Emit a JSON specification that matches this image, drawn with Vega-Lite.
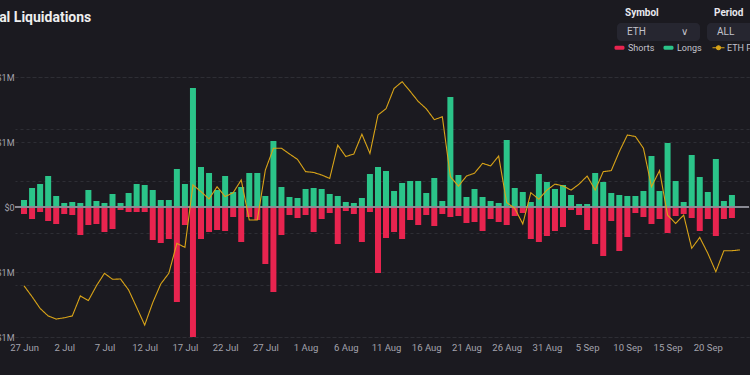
{
  "$schema": "https://vega.github.io/schema/vega-lite/v6.json",
  "width": 734,
  "height": 260,
  "autosize": {"type": "none"},
  "padding": {"left": 15, "top": 77, "right": 1, "bottom": 38},
  "background": "#1b1a20",
  "config": {"view": {"stroke": null}, "font": "Roboto"},
  "title": {"text": "Total Liquidations", "anchor": "start", "frame": "group", "dx": -36, "offset": -17, "fontSize": 14, "font": "Roboto", "fontWeight": "bold", "color": "#eeeeee"},
  "data": {"values": [
    {"date":"2022-06-27","longs":70000,"shorts":-70000,"price":1197},
    {"date":"2022-06-28","longs":190000,"shorts":-120000,"price":1155},
    {"date":"2022-06-29","longs":230000,"shorts":-50000,"price":1110},
    {"date":"2022-06-30","longs":310000,"shorts":-140000,"price":1081},
    {"date":"2022-07-01","longs":110000,"shorts":-170000,"price":1069},
    {"date":"2022-07-02","longs":40000,"shorts":-70000,"price":1074},
    {"date":"2022-07-03","longs":50000,"shorts":-80000,"price":1081},
    {"date":"2022-07-04","longs":40000,"shorts":-280000,"price":1158},
    {"date":"2022-07-05","longs":170000,"shorts":-180000,"price":1140},
    {"date":"2022-07-06","longs":60000,"shorts":-170000,"price":1197},
    {"date":"2022-07-07","longs":40000,"shorts":-250000,"price":1245},
    {"date":"2022-07-08","longs":130000,"shorts":-220000,"price":1222},
    {"date":"2022-07-09","longs":40000,"shorts":-30000,"price":1223},
    {"date":"2022-07-10","longs":140000,"shorts":-50000,"price":1181},
    {"date":"2022-07-11","longs":230000,"shorts":-50000,"price":1114},
    {"date":"2022-07-12","longs":220000,"shorts":-50000,"price":1046},
    {"date":"2022-07-13","longs":170000,"shorts":-330000,"price":1132},
    {"date":"2022-07-14","longs":70000,"shorts":-360000,"price":1204},
    {"date":"2022-07-15","longs":70000,"shorts":-320000,"price":1245},
    {"date":"2022-07-16","longs":380000,"shorts":-950000,"price":1360},
    {"date":"2022-07-17","longs":230000,"shorts":-180000,"price":1345},
    {"date":"2022-07-18","longs":1190000,"shorts":-1330000,"price":1585},
    {"date":"2022-07-19","longs":400000,"shorts":-320000,"price":1559},
    {"date":"2022-07-20","longs":340000,"shorts":-250000,"price":1531},
    {"date":"2022-07-21","longs":170000,"shorts":-230000,"price":1578},
    {"date":"2022-07-22","longs":310000,"shorts":-240000,"price":1540},
    {"date":"2022-07-23","longs":150000,"shorts":-100000,"price":1555},
    {"date":"2022-07-24","longs":200000,"shorts":-350000,"price":1604},
    {"date":"2022-07-25","longs":340000,"shorts":-100000,"price":1450},
    {"date":"2022-07-26","longs":340000,"shorts":-130000,"price":1450},
    {"date":"2022-07-27","longs":110000,"shorts":-570000,"price":1642},
    {"date":"2022-07-28","longs":660000,"shorts":-850000,"price":1726},
    {"date":"2022-07-29","longs":200000,"shorts":-280000,"price":1726},
    {"date":"2022-07-30","longs":100000,"shorts":-80000,"price":1704},
    {"date":"2022-07-31","longs":90000,"shorts":-110000,"price":1683},
    {"date":"2022-08-01","longs":180000,"shorts":-80000,"price":1636},
    {"date":"2022-08-02","longs":190000,"shorts":-250000,"price":1633},
    {"date":"2022-08-03","longs":180000,"shorts":-120000,"price":1623},
    {"date":"2022-08-04","longs":130000,"shorts":-60000,"price":1610},
    {"date":"2022-08-05","longs":110000,"shorts":-370000,"price":1738},
    {"date":"2022-08-06","longs":50000,"shorts":-40000,"price":1694},
    {"date":"2022-08-07","longs":40000,"shorts":-70000,"price":1704},
    {"date":"2022-08-08","longs":90000,"shorts":-350000,"price":1780},
    {"date":"2022-08-09","longs":330000,"shorts":-50000,"price":1706},
    {"date":"2022-08-10","longs":400000,"shorts":-660000,"price":1854},
    {"date":"2022-08-11","longs":360000,"shorts":-310000,"price":1878},
    {"date":"2022-08-12","longs":160000,"shorts":-250000,"price":1956},
    {"date":"2022-08-13","longs":240000,"shorts":-320000,"price":1982},
    {"date":"2022-08-14","longs":260000,"shorts":-130000,"price":1945},
    {"date":"2022-08-15","longs":260000,"shorts":-180000,"price":1906},
    {"date":"2022-08-16","longs":140000,"shorts":-80000,"price":1878},
    {"date":"2022-08-17","longs":290000,"shorts":-190000,"price":1836},
    {"date":"2022-08-18","longs":60000,"shorts":-70000,"price":1847},
    {"date":"2022-08-19","longs":1100000,"shorts":-100000,"price":1617},
    {"date":"2022-08-20","longs":320000,"shorts":-90000,"price":1580},
    {"date":"2022-08-21","longs":100000,"shorts":-160000,"price":1619},
    {"date":"2022-08-22","longs":180000,"shorts":-150000,"price":1630},
    {"date":"2022-08-23","longs":100000,"shorts":-240000,"price":1668},
    {"date":"2022-08-24","longs":60000,"shorts":-120000,"price":1658},
    {"date":"2022-08-25","longs":40000,"shorts":-150000,"price":1696},
    {"date":"2022-08-26","longs":670000,"shorts":-180000,"price":1517},
    {"date":"2022-08-27","longs":190000,"shorts":-90000,"price":1495},
    {"date":"2022-08-28","longs":150000,"shorts":-60000,"price":1435},
    {"date":"2022-08-29","longs":50000,"shorts":-320000,"price":1555},
    {"date":"2022-08-30","longs":330000,"shorts":-350000,"price":1530},
    {"date":"2022-08-31","longs":250000,"shorts":-290000,"price":1565},
    {"date":"2022-09-01","longs":180000,"shorts":-240000,"price":1588},
    {"date":"2022-09-02","longs":220000,"shorts":-200000,"price":1581},
    {"date":"2022-09-03","longs":120000,"shorts":-30000,"price":1565},
    {"date":"2022-09-04","longs":30000,"shorts":-80000,"price":1588},
    {"date":"2022-09-05","longs":30000,"shorts":-230000,"price":1619},
    {"date":"2022-09-06","longs":340000,"shorts":-370000,"price":1565},
    {"date":"2022-09-07","longs":250000,"shorts":-490000,"price":1636},
    {"date":"2022-09-08","longs":140000,"shorts":-140000,"price":1640},
    {"date":"2022-09-09","longs":120000,"shorts":-440000,"price":1713},
    {"date":"2022-09-10","longs":110000,"shorts":-300000,"price":1777},
    {"date":"2022-09-11","longs":110000,"shorts":-60000,"price":1771},
    {"date":"2022-09-12","longs":160000,"shorts":-100000,"price":1726},
    {"date":"2022-09-13","longs":510000,"shorts":-170000,"price":1578},
    {"date":"2022-09-14","longs":160000,"shorts":-120000,"price":1640},
    {"date":"2022-09-15","longs":640000,"shorts":-260000,"price":1469},
    {"date":"2022-09-16","longs":260000,"shorts":-90000,"price":1437},
    {"date":"2022-09-17","longs":50000,"shorts":-70000,"price":1469},
    {"date":"2022-09-18","longs":520000,"shorts":-110000,"price":1341},
    {"date":"2022-09-19","longs":300000,"shorts":-240000,"price":1383},
    {"date":"2022-09-20","longs":150000,"shorts":-120000,"price":1322},
    {"date":"2022-09-21","longs":480000,"shorts":-290000,"price":1251},
    {"date":"2022-09-22","longs":60000,"shorts":-120000,"price":1332},
    {"date":"2022-09-23","longs":120000,"shorts":-110000,"price":1332},
    {"date":"2022-09-24","longs":0,"shorts":0,"price":1335}
  ]},
  "layer": [
    {
      "layer": [
        {
          "mark": {"type": "bar", "width": 6, "clip": true},
          "encoding": {
            "x": {"field": "date", "type": "temporal",
              "scale": {"type": "utc", "domain": [{"year": 2022, "month": 6, "date": 26, "hours": 12, "utc": true}, {"year": 2022, "month": 9, "date": 24, "hours": 12, "utc": true}]},
              "axis": {"title": null, "format": "%-d %b", "grid": false, "domain": false, "ticks": false, "labelPadding": 5, "labelColor": "#a3a3ad", "labelFontSize": 9.5, "labelFont": "Roboto",
                "values": [
                  {"year": 2022, "month": 6, "date": 27, "utc": true},
                  {"year": 2022, "month": 7, "date": 2, "utc": true},
                  {"year": 2022, "month": 7, "date": 7, "utc": true},
                  {"year": 2022, "month": 7, "date": 12, "utc": true},
                  {"year": 2022, "month": 7, "date": 17, "utc": true},
                  {"year": 2022, "month": 7, "date": 22, "utc": true},
                  {"year": 2022, "month": 7, "date": 27, "utc": true},
                  {"year": 2022, "month": 8, "date": 1, "utc": true},
                  {"year": 2022, "month": 8, "date": 6, "utc": true},
                  {"year": 2022, "month": 8, "date": 11, "utc": true},
                  {"year": 2022, "month": 8, "date": 16, "utc": true},
                  {"year": 2022, "month": 8, "date": 21, "utc": true},
                  {"year": 2022, "month": 8, "date": 26, "utc": true},
                  {"year": 2022, "month": 8, "date": 31, "utc": true},
                  {"year": 2022, "month": 9, "date": 5, "utc": true},
                  {"year": 2022, "month": 9, "date": 10, "utc": true},
                  {"year": 2022, "month": 9, "date": 15, "utc": true},
                  {"year": 2022, "month": 9, "date": 20, "utc": true}
                ]}},
            "y": {"field": "longs", "type": "quantitative",
              "scale": {"domain": [-1300000, 1300000], "nice": false, "zero": false},
              "axis": {"title": null, "orient": "left", "values": [-1300000, -650000, 0, 650000, 1300000], "labelExpr": "datum.value == 0 ? '$0' : (datum.value < 0 ? '-' : '') + '$' + round(abs(datum.value) / 1000000) + 'M'", "domain": false, "ticks": false, "labelPadding": 1, "labelColor": "#a3a3ad", "labelFontSize": 9, "labelFont": "Roboto", "grid": true, "gridColor": "#2e2e35", "gridDash": [3, 3], "gridWidth": 1}},
            "color": {"datum": "Longs", "type": "nominal",
              "scale": {"domain": ["Shorts", "Longs", "ETH Price"], "range": ["#e8244f", "#2bc489", "#d9a418"]},
              "legend": {"title": null, "orient": "none", "legendX": 600, "legendY": -34, "direction": "horizontal", "padding": 0, "labelFontSize": 9, "labelFont": "Roboto", "labelColor": "#c3c3cc", "symbolSize": 100, "labelOffset": 4, "columnPadding": 8,
                "encode": {"symbols": {"update": {
                  "shape": {"signal": "datum.value === 'ETH Price' ? 'M-1.2,0H1.2M0,-0.4A0.4,0.4 0 1,1 0,0.4A0.4,0.4 0 1,1 0,-0.4Z' : 'M-0.75,-0.4H0.75A0.3,0.3 0 0 1 1,-0.1V0.1A0.3,0.3 0 0 1 0.75,0.4H-0.75A0.3,0.3 0 0 1 -1,0.1V-0.1A0.3,0.3 0 0 1 -0.75,-0.4Z'"},
                  "fill": {"scale": "color", "field": "value"},
                  "stroke": {"scale": "color", "field": "value"},
                  "strokeWidth": {"signal": "datum.value === 'ETH Price' ? 1.2 : 0"},
                  "opacity": {"signal": "1"}
                }}}}}
          }
        },
        {
          "mark": {"type": "bar", "width": 6, "clip": true},
          "encoding": {
            "x": {"field": "date", "type": "temporal"},
            "y": {"field": "shorts", "type": "quantitative"},
            "color": {"datum": "Shorts", "type": "nominal"}
          }
        },
        {
          "mark": {"type": "rule", "color": "#8a8a94", "strokeWidth": 1},
          "encoding": {
            "y": {"datum": 0, "type": "quantitative"},
            "strokeDash": {"datum": "ETH", "type": "nominal", "scale": {"range": [[1, 0]]},
              "legend": {"title": "Symbol", "orient": "none", "legendX": 610, "legendY": -69, "padding": 0, "titleFontSize": 10, "titleFont": "Roboto", "titleFontWeight": "bold", "titleColor": "#e8e8ee", "titlePadding": 9, "labelFontSize": 10, "labelFont": "Roboto", "labelColor": "#c3c3cc", "symbolSize": 100, "labelOffset": -8,
                "symbolType": "M-1.8,-1.8H13.2A0.8,0.8 0 0 1 14,-1V1A0.8,0.8 0 0 1 13.2,1.8H-1.8A0.8,0.8 0 0 1 -2.6,1V-1A0.8,0.8 0 0 1 -1.8,-1.8Z",
                "symbolFillColor": "#262630", "symbolStrokeWidth": 0, "symbolOpacity": 1,
                "labelExpr": "datum.label + '\u00a0\u00a0\u00a0\u00a0\u00a0\u00a0\u00a0\u00a0\u00a0\u00a0\u00a0\u00a0\u00a0\u00a0\u2228'",
                "encode": {
                  "symbols": {"update": {
                    "shape": {"signal": "'M-1.8,-1.8H13.2A0.8,0.8 0 0 1 14,-1V1A0.8,0.8 0 0 1 13.2,1.8H-1.8A0.8,0.8 0 0 1 -2.6,1V-1A0.8,0.8 0 0 1 -1.8,-1.8Z'"},
                    "fill": {"signal": "'#262630'"},
                    "strokeWidth": {"signal": "0"},
                    "opacity": {"signal": "1"}
                  }}}}}
          }
        }
      ]
    },
    {
      "mark": {"type": "line", "strokeWidth": 1.1, "interpolate": "linear"},
      "encoding": {
        "x": {"field": "date", "type": "temporal"},
        "y": {"field": "price", "type": "quantitative",
          "scale": {"domain": [1000, 2000], "nice": false, "zero": false},
          "axis": {"title": null, "orient": "right", "values": [1000, 1200, 1400, 1600, 1800, 2000], "labels": false, "domain": false, "ticks": false, "grid": true, "gridColor": "#2e2e35", "gridDash": [3, 3], "gridWidth": 1}},
        "color": {"datum": "ETH Price", "type": "nominal"},
        "strokeDash": {"datum": "ALL", "type": "nominal", "scale": {"range": [[1, 0]]},
          "legend": {"title": "Period", "orient": "none", "legendX": 699, "legendY": -69, "padding": 0, "titleFontSize": 10, "titleFont": "Roboto", "titleFontWeight": "bold", "titleColor": "#e8e8ee", "titlePadding": 9, "labelFontSize": 10, "labelFont": "Roboto", "labelColor": "#c3c3cc", "symbolSize": 100, "labelOffset": -7,
            "symbolType": "M-1.6,-1.8H8.2V1.8H-1.6A0.8,0.8 0 0 1 -2.4,1V-1A0.8,0.8 0 0 1 -1.6,-1.8Z",
            "symbolFillColor": "#262630", "symbolStrokeWidth": 0, "symbolOpacity": 1,
            "encode": {
              "symbols": {"update": {
                "shape": {"signal": "'M-1.6,-1.8H8.2V1.8H-1.6A0.8,0.8 0 0 1 -2.4,1V-1A0.8,0.8 0 0 1 -1.6,-1.8Z'"},
                "fill": {"signal": "'#262630'"},
                "strokeWidth": {"signal": "0"},
                "opacity": {"signal": "1"}
              }}}}}
      }
    }
  ],
  "resolve": {"scale": {"y": "independent", "strokeDash": "independent"}}
}
